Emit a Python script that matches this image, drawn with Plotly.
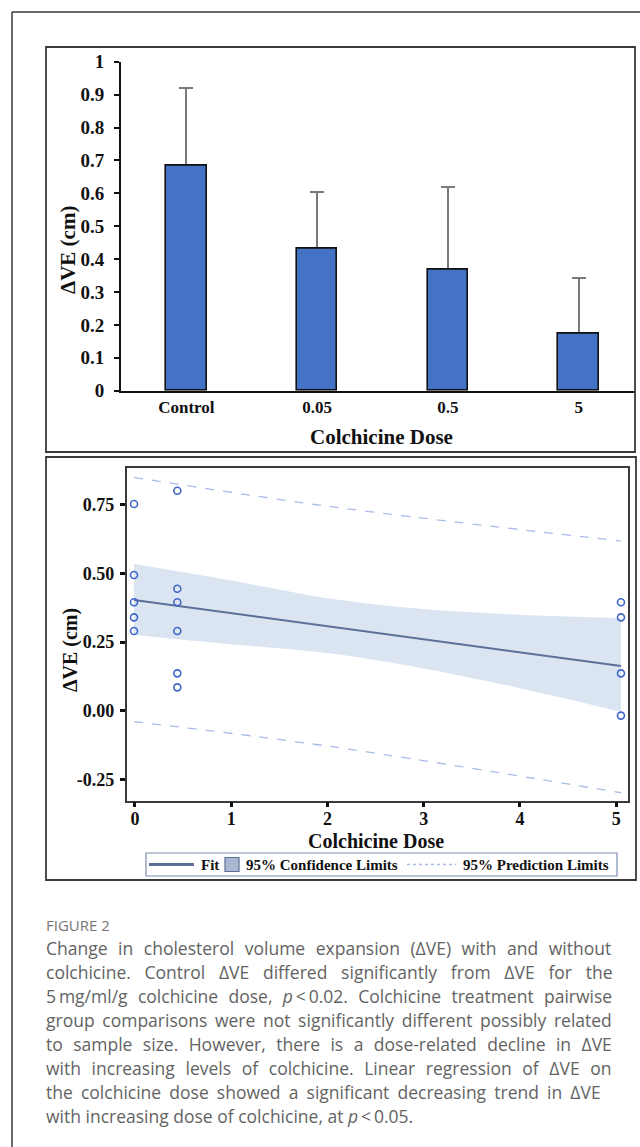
import plotly.graph_objects as go

W, H = 640, 1147


def px(x):
    return x / W


def py(y):
    return 1 - y / H


# ---------------- data: top bar chart ----------------
dose_groups = ["Control", "0.05", "0.5", "5"]
mean_ve = [0.685, 0.433, 0.367, 0.174]
sd_ve = [0.234, 0.170, 0.252, 0.168]
bar_yticks = [0, 0.1, 0.2, 0.3, 0.4, 0.5, 0.6, 0.7, 0.8, 0.9, 1]
bar_yticklabels = ["0", "0.1", "0.2", "0.3", "0.4", "0.5", "0.6", "0.7", "0.8", "0.9", "1"]

# ---------------- data: bottom regression chart ----------------
dose_obs = [-0.01, -0.01, -0.01, -0.01, -0.01,
            0.44, 0.44, 0.44, 0.44, 0.44, 0.44,
            5.05, 5.05, 5.05, 5.05]
ve_obs = [0.753, 0.494, 0.395, 0.340, 0.290,
          0.801, 0.444, 0.395, 0.290, 0.136, 0.085,
          0.395, 0.340, 0.136, -0.018]
fit_dose = [-0.01, 5.05]
fit_ve = [0.403, 0.163]
ci_dose = [-0.01, 1, 2, 3, 4, 5.05]
ci_upper = [0.534, 0.474, 0.410, 0.370, 0.349, 0.337]
ci_lower = [0.276, 0.242, 0.210, 0.154, 0.082, -0.004]
pl_dose = [-0.01, 2, 5.05]
pl_upper = [0.850, 0.745, 0.618]
pl_lower = [-0.040, -0.129, -0.299]
reg_xticks = [0, 1, 2, 3, 4, 5]
reg_yticks = [-0.25, 0, 0.25, 0.5, 0.75]
reg_yticklabels = ["-0.25", "0.00", "0.25", "0.50", "0.75"]

legend_labels = ["Fit", "95% Confidence Limits", "95% Prediction Limits"]

caption_title = "FIGURE 2"
caption_lines = [
    "Change in cholesterol volume expansion (ΔVE) with and without",
    "colchicine. Control ΔVE differed significantly from ΔVE for the",
    "5\u2009mg/ml/g colchicine dose, <i>p</i>\u2009&lt;\u20090.02. Colchicine treatment pairwise",
    "group comparisons were not significantly different possibly related",
    "to sample size. However, there is a dose-related decline in ΔVE",
    "with increasing levels of colchicine. Linear regression of ΔVE on",
    "the colchicine dose showed a significant decreasing trend in ΔVE",
    "with increasing dose of colchicine, at <i>p</i>\u2009&lt;\u20090.05.",
]
# extra word spacing (px) to justify lines (last line not justified)
caption_wordspacing = [6.0, 9.2, 5.8, 3.1, 5.9, 6.1, 3.6, 0]

SERIF = "Liberation Serif, Times New Roman, serif"
CAP_FONT = "Open Sans, Lato, Noto Sans, sans-serif"
BAR_BLUE = "#4472C4"
PT_BLUE = "#3f66c9"
FIT_COL = "#5b6f98"
CI_FILL = "#dbe5f2"
PL_COL = "#a9bce8"

fig = go.Figure()

# error bars (drawn first, hidden base)
fig.add_trace(go.Bar(
    x=dose_groups, y=mean_ve, width=0.31,
    marker=dict(color="rgba(0,0,0,0)", line=dict(width=0)),
    error_y=dict(type="data", array=sd_ve, arrayminus=[0] * len(sd_ve), symmetric=False,
                 color="#7a7a7a", thickness=2, width=7),
    xaxis="x", yaxis="y", showlegend=False, hoverinfo="skip",
))
# bars on top
fig.add_trace(go.Bar(
    x=dose_groups, y=mean_ve, width=0.31,
    marker=dict(color=BAR_BLUE, line=dict(color="#111111", width=1.6)),
    xaxis="x", yaxis="y", showlegend=False,
))

# prediction limits
fig.add_trace(go.Scatter(x=pl_dose, y=pl_upper, mode="lines",
                         line=dict(color=PL_COL, width=1.3, dash="dash", shape="spline"),
                         xaxis="x2", yaxis="y2", showlegend=False))
fig.add_trace(go.Scatter(x=pl_dose, y=pl_lower, mode="lines",
                         line=dict(color=PL_COL, width=1.3, dash="dash", shape="spline"),
                         xaxis="x2", yaxis="y2", showlegend=False))
# confidence band
fig.add_trace(go.Scatter(x=ci_dose, y=ci_upper, mode="lines",
                         line=dict(color=CI_FILL, width=0, shape="spline"),
                         xaxis="x2", yaxis="y2", showlegend=False))
fig.add_trace(go.Scatter(x=ci_dose, y=ci_lower, mode="lines", fill="tonexty",
                         fillcolor=CI_FILL,
                         line=dict(color=CI_FILL, width=0, shape="spline"),
                         xaxis="x2", yaxis="y2", showlegend=False))
# fit
fig.add_trace(go.Scatter(x=fit_dose, y=fit_ve, mode="lines",
                         line=dict(color=FIT_COL, width=2),
                         xaxis="x2", yaxis="y2", showlegend=False))
# observations
fig.add_trace(go.Scatter(x=dose_obs, y=ve_obs, mode="markers",
                         marker=dict(symbol="circle-open", size=7, color=PT_BLUE,
                                     line=dict(width=1.6, color=PT_BLUE)),
                         xaxis="x2", yaxis="y2", showlegend=False))

tick_font_bold = dict(family=SERIF, size=18, color="#111111", weight="bold")

fig.update_layout(
    template="none",
    width=W, height=H, autosize=False, showlegend=False,
    margin=dict(l=0, r=0, t=0, b=0, pad=0, autoexpand=False),
    paper_bgcolor="white", plot_bgcolor="rgba(0,0,0,0)",
    barmode="overlay", bargap=0,
    xaxis=dict(domain=[px(121), px(635)], anchor="y", type="category", automargin=False,
               range=[-0.5, 3.43], showline=True, linecolor="#111111", linewidth=2,
               ticks="", showgrid=False, zeroline=False,
               tickfont=dict(family=SERIF, size=17, color="#111111", weight="bold"),
               ticklabelstandoff=0),
    yaxis=dict(domain=[py(390.7), py(61.7)], anchor="x", range=[0, 1], automargin=False,
               tickvals=bar_yticks, ticktext=bar_yticklabels,
               showline=True, linecolor="#111111", linewidth=2,
               ticks="outside", ticklen=5, tickwidth=2, tickcolor="#111111",
               showgrid=False, zeroline=False,
               tickfont=dict(family=SERIF, size=19, color="#111111", weight="bold"),
               ticklabelstandoff=6),
    xaxis2=dict(domain=[px(126.7), px(627.7)], anchor="y2", range=[-0.086, 5.12], automargin=False,
                tickvals=reg_xticks, showline=True, mirror=True,
                linecolor="#3a3a3a", linewidth=1.5,
                ticks="outside", ticklen=5, tickwidth=3, tickcolor="#111111",
                showgrid=False, zeroline=False, tickfont=tick_font_bold,
                ticklabelstandoff=-4),
    yaxis2=dict(domain=[py(800.7), py(468.3)], anchor="x2", range=[-0.328, 0.883], automargin=False,
                tickvals=reg_yticks, ticktext=reg_yticklabels,
                showline=True, mirror=True, linecolor="#3a3a3a", linewidth=1.5,
                ticks="outside", ticklen=5, tickwidth=3, tickcolor="#111111",
                showgrid=False, zeroline=False, tickfont=tick_font_bold,
                ticklabelstandoff=2),
)

shapes = []
# outer page frame (top + left)
shapes.append(dict(type="line", xref="paper", yref="paper", x0=px(12), x1=px(640), y0=py(12), y1=py(12),
                   line=dict(color="#3a3a3a", width=1.5)))
shapes.append(dict(type="line", xref="paper", yref="paper", x0=px(12), x1=px(12), y0=py(12), y1=py(1147),
                   line=dict(color="#3a3a3a", width=1.5)))
# panel frames
shapes.append(dict(type="rect", xref="paper", yref="paper", x0=px(46), x1=px(635), y0=py(452), y1=py(47),
                   line=dict(color="#3a3a3a", width=1.8)))
shapes.append(dict(type="rect", xref="paper", yref="paper", x0=px(46), x1=px(636), y0=py(880), y1=py(457),
                   line=dict(color="#3a3a3a", width=1.8)))
# legend box
shapes.append(dict(type="rect", xref="paper", yref="paper", x0=px(146), x1=px(617), y0=py(876), y1=py(853),
                   line=dict(color="#7d8db0", width=1.2), fillcolor="white"))
# legend samples
shapes.append(dict(type="line", xref="paper", yref="paper", x0=px(149), x1=px(194), y0=py(864.5), y1=py(864.5),
                   line=dict(color=FIT_COL, width=3)))
shapes.append(dict(type="rect", xref="paper", yref="paper", x0=px(225), x1=px(239), y0=py(871.5), y1=py(857.5),
                   line=dict(color=FIT_COL, width=1.2), fillcolor="#a9b7d0"))
shapes.append(dict(type="line", xref="paper", yref="paper", x0=px(407), x1=px(456), y0=py(864.5), y1=py(864.5),
                   line=dict(color=PL_COL, width=1.3, dash="3px,3px")))

annotations = []
title_font = dict(family=SERIF, size=21, color="#111111", weight="bold")
# top chart titles
annotations.append(dict(text="ΔVE (cm)", x=px(68), y=py(250), xref="paper", yref="paper",
                        textangle=-90, showarrow=False, font=title_font, xanchor="center", yanchor="middle"))
annotations.append(dict(text="Colchicine Dose", x=px(381), y=py(437), xref="paper", yref="paper",
                        showarrow=False, font=title_font, xanchor="center", yanchor="middle"))
# bottom chart titles
annotations.append(dict(text="ΔVE (cm)", x=px(70), y=py(650), xref="paper", yref="paper",
                        textangle=-90, showarrow=False, font=dict(family=SERIF, size=20, color="#111111", weight="bold"),
                        xanchor="center", yanchor="middle"))
annotations.append(dict(text="Colchicine Dose", x=px(376), y=py(841), xref="paper", yref="paper",
                        showarrow=False, font=dict(family=SERIF, size=20, color="#111111", weight="bold"),
                        xanchor="center", yanchor="middle"))
# legend texts
leg_font = dict(family=SERIF, size=15, color="#111111", weight="bold")
for lab, xl in zip(legend_labels, [199, 244, 461]):
    annotations.append(dict(text=lab, x=px(xl), y=py(864.5), xref="paper", yref="paper",
                            showarrow=False, font=leg_font, xanchor="left", yanchor="middle"))

# caption
annotations.append(dict(text=caption_title, x=px(44), y=py(925), xref="paper", yref="paper",
                        showarrow=False, font=dict(family=CAP_FONT, size=15, color="#777777"),
                        xanchor="left", yanchor="middle"))
for i, (line, ws) in enumerate(zip(caption_lines, caption_wordspacing)):
    txt = f'<span style="word-spacing:{ws}px">{line}</span>' if ws else line
    annotations.append(dict(text=txt, x=px(44), y=py(948 + 24 * i), xref="paper", yref="paper",
                            showarrow=False, font=dict(family=CAP_FONT, size=17.5, color="#636363"),
                            xanchor="left", yanchor="middle"))

fig.update_layout(shapes=shapes, annotations=annotations)

fig.write_html("out.html", config={"displayModeBar": False},
               post_script="document.body.style.margin='0';document.body.style.overflow='hidden';")
